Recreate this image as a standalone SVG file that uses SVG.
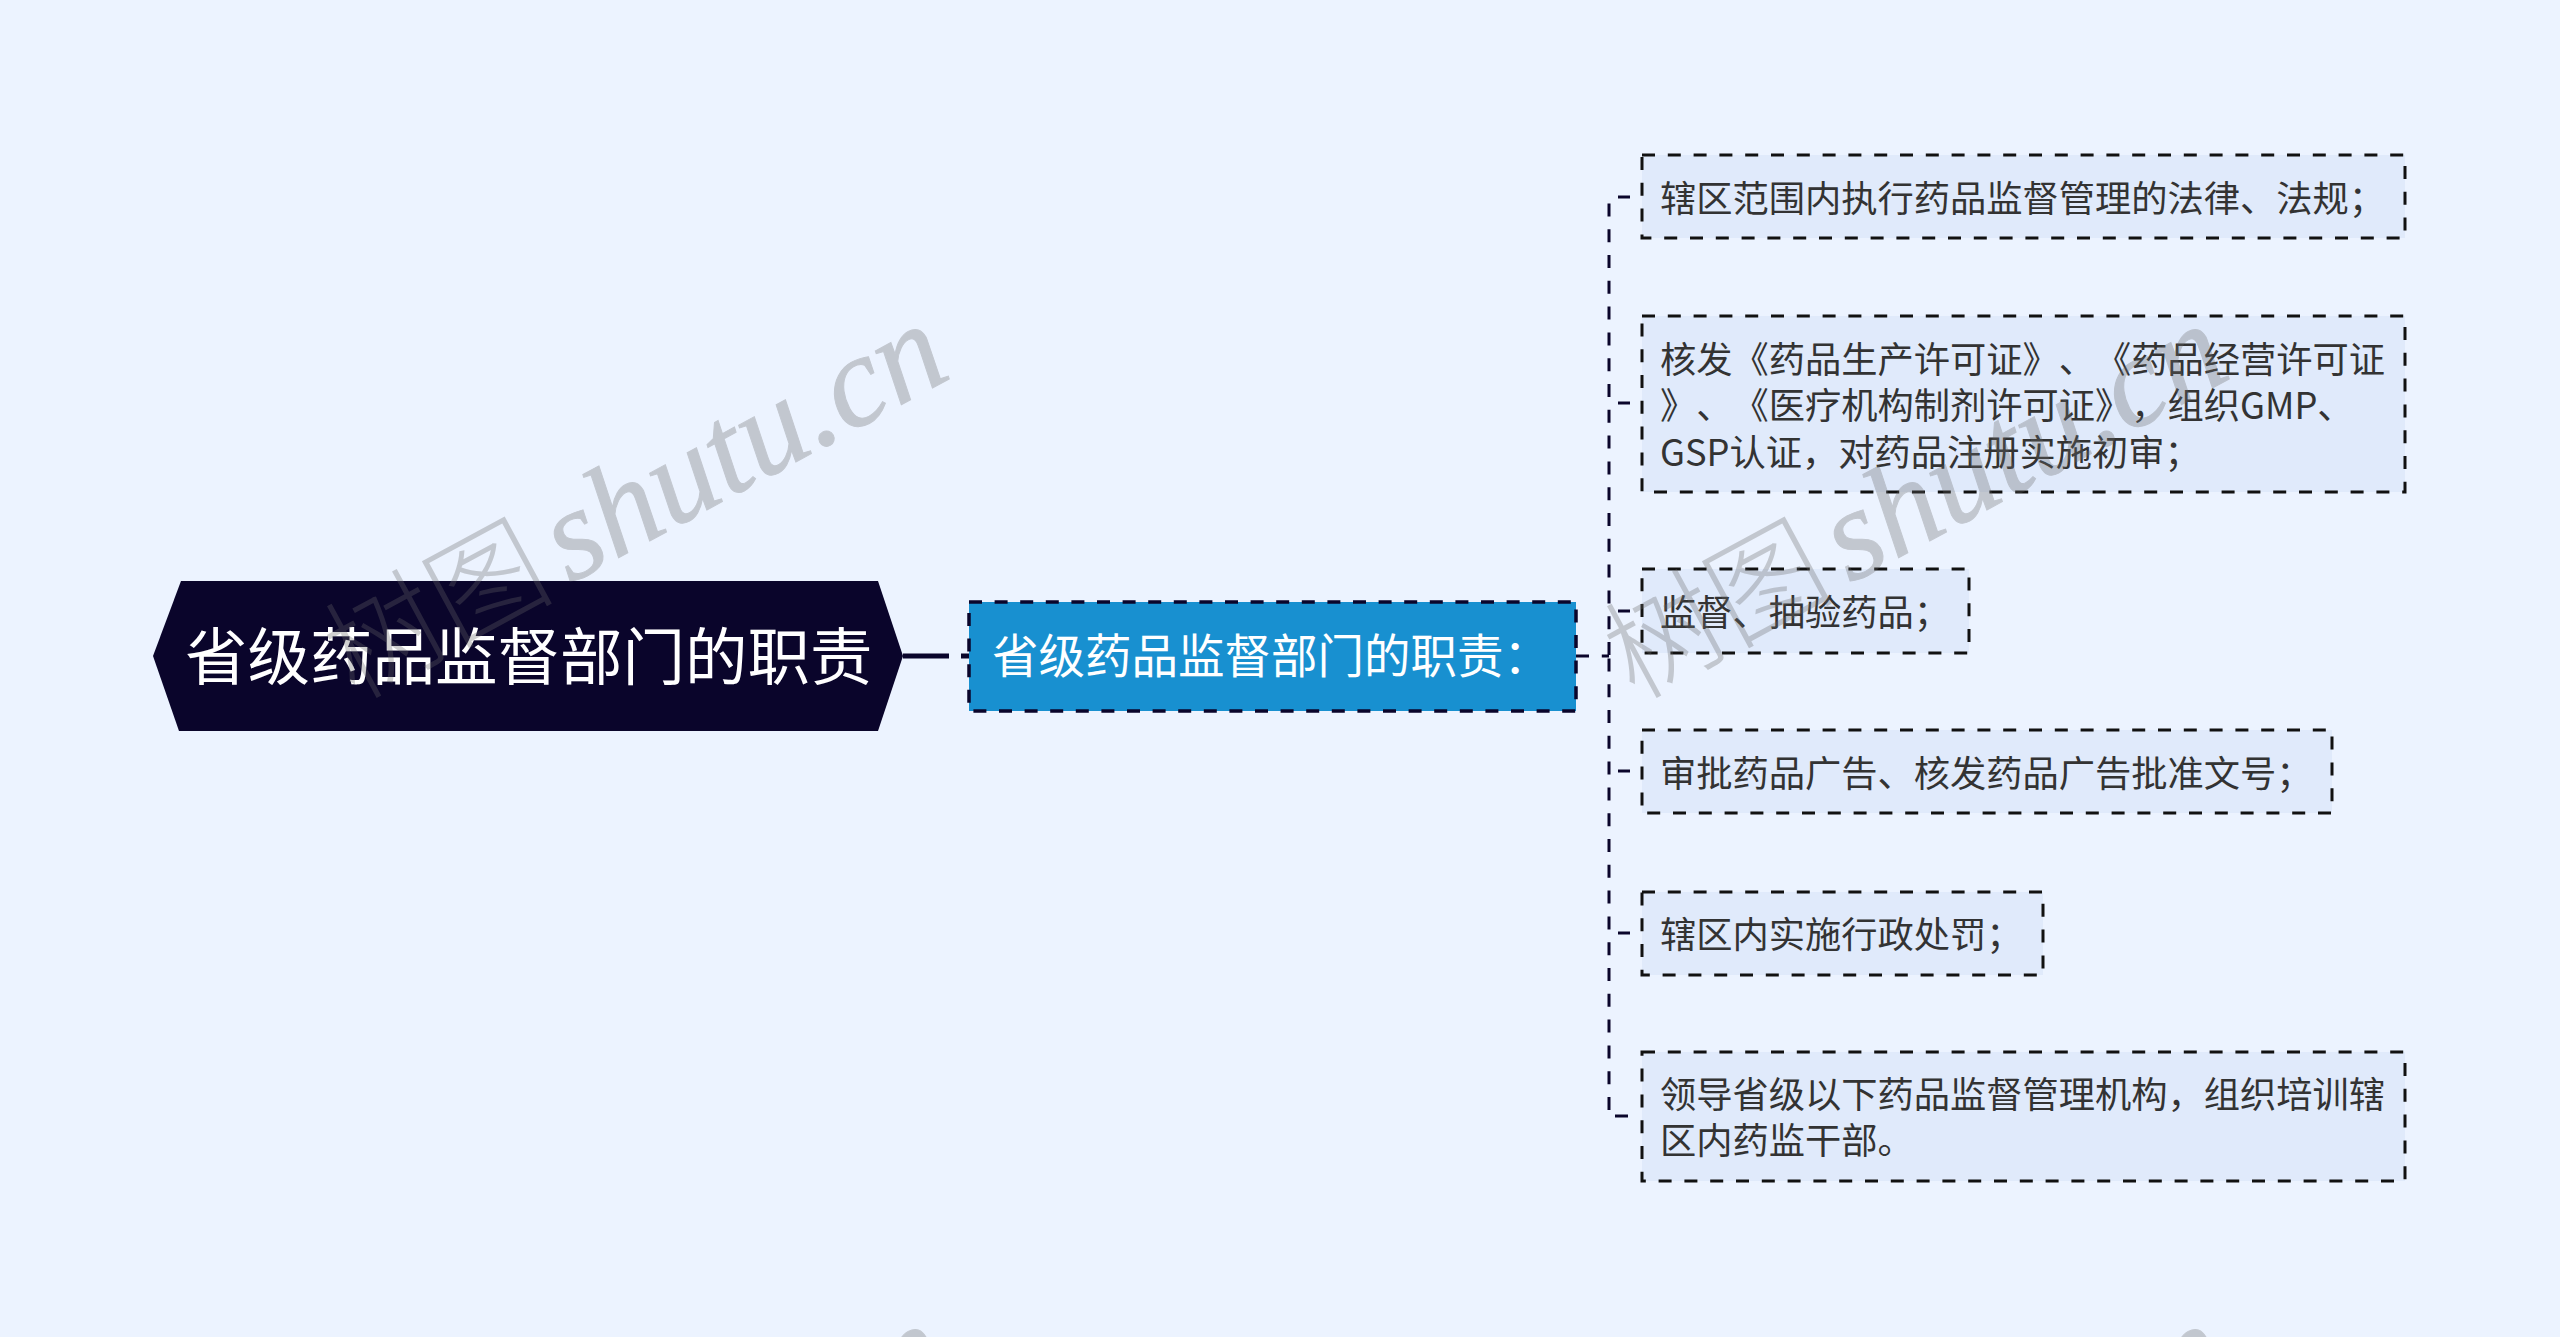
<svg xmlns="http://www.w3.org/2000/svg" xmlns:xlink="http://www.w3.org/1999/xlink" width="2560" height="1337" viewBox="0 0 2560 1337">
<style>
text{font-family:"Noto Sans CJK SC","Noto Sans",sans-serif;text-spacing-trim:space-all}
.leaf rect{fill:#e0eafb;stroke:#111;stroke-width:3;stroke-dasharray:13 12.8}
.leaf text{font-size:36.25px;fill:#333}
.c{fill:none;stroke:#0a052b;stroke-width:3;stroke-dasharray:13 12.8}
.wm{fill:#686868;opacity:.31}
.wm .en{font-family:"Liberation Serif",serif;font-style:italic;font-size:130px;stroke:#686868;stroke-width:1}
.wm .zh{font-family:"Noto Sans CJK SC",sans-serif;font-weight:300;font-size:115px}
</style>
<defs>
<g id="wm" class="wm" transform="translate(570 584) rotate(-28.4)">
<text class="zh" x="-245" y="0">树图</text>
<text class="en" x="0" y="0">shutu.cn</text>
</g>
</defs>
<rect width="2560" height="1337" fill="#ecf3ff"/>
<g id="connectors">
<path d="M903 656H969" fill="none" stroke="#0a052b" stroke-width="5" stroke-dasharray="46 12"/>
<path class="c" d="M1576 656H1609"/>
<path class="c" d="M1609 655V203"/>
<path class="c" d="M1609 658.4V1110"/>
<path class="c" d="M1618 197H1630"/>
<path class="c" d="M1618 403H1630"/>
<path class="c" d="M1618 611H1630"/>
<path class="c" d="M1618 771H1630"/>
<path class="c" d="M1618 933H1630"/>
<path class="c" d="M1615 1116H1630"/>
</g>
<g id="root"><polygon points="153,656 181,581 878,581 903,656 878,731 179,731" fill="#0a052b"/>
<text x="185" y="680" font-size="62.5" fill="#fff">省级药品监督部门的职责</text></g>
<g id="sub"><rect x="969" y="602" width="607" height="109" fill="#1890d0" stroke="#0a052b" stroke-width="3.5" stroke-dasharray="13 12.6"/>
<text x="992" y="673" font-size="46.5" fill="#fff">省级药品监督部门的职责：</text></g>
<g id="leaf1" class="leaf"><rect x="1642" y="155" width="763" height="83"/><text x="1660" y="212">辖区范围内执行药品监督管理的法律、法规；</text></g>
<g id="leaf2" class="leaf"><rect x="1642" y="316" width="763" height="176"/><text x="1660" y="373">核发《药品生产许可证》、《药品经营许可证</text><text x="1660" y="419">》、《医疗机构制剂许可证》，组织GMP、</text><text x="1660" y="466">GSP认证，对药品注册实施初审；</text></g>
<g id="leaf3" class="leaf"><rect x="1642" y="569" width="327" height="84"/><text x="1660" y="626">监督、抽验药品；</text></g>
<g id="leaf4" class="leaf"><rect x="1642" y="730" width="690" height="83"/><text x="1660" y="787">审批药品广告、核发药品广告批准文号；</text></g>
<g id="leaf5" class="leaf"><rect x="1642" y="892" width="401" height="83"/><text x="1660" y="948">辖区内实施行政处罚；</text></g>
<g id="leaf6" class="leaf"><rect x="1642" y="1052" width="763" height="129"/><text x="1660" y="1108">领导省级以下药品监督管理机构，组织培训辖</text><text x="1660" y="1154">区内药监干部。</text></g>
<use xlink:href="#wm"/>
<use xlink:href="#wm" x="1280"/>
<use xlink:href="#wm" y="1000"/>
<use xlink:href="#wm" x="1280" y="1000"/>
</svg>
